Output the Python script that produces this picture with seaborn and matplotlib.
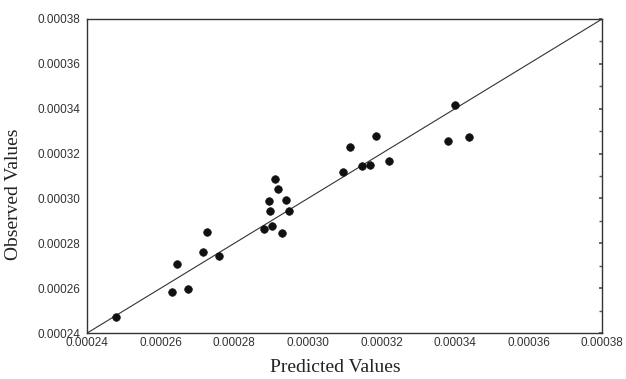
import matplotlib
matplotlib.use("Agg")
import matplotlib.pyplot as plt
import seaborn as sns
import numpy as np
import pandas as pd
from matplotlib.ticker import MultipleLocator, FormatStrFormatter

predicted = [0.000248, 0.0002631, 0.0002674, 0.0002645, 0.0002714, 0.0002727,
             0.0002758, 0.0002881, 0.0002902, 0.0002930, 0.0002897, 0.0002895,
             0.0002949, 0.0002942, 0.0002919, 0.0002910, 0.0003096, 0.0003114,
             0.0003148, 0.0003168, 0.0003185, 0.0003220, 0.0003382, 0.0003400,
             0.0003437]
observed = [0.000247, 0.0002584, 0.0002595, 0.0002707, 0.0002761, 0.0002849,
            0.0002744, 0.0002866, 0.0002877, 0.0002844, 0.0002945, 0.0002989,
            0.0002945, 0.0002995, 0.0003041, 0.0003089, 0.0003116, 0.0003230,
            0.0003144, 0.0003148, 0.0003277, 0.0003165, 0.0003254, 0.0003417,
            0.0003273]
axis_limits = [0.00024, 0.00038]
tick_values = [0.00024, 0.00026, 0.00028, 0.00030, 0.00032, 0.00034, 0.00036, 0.00038]
x_label = "Predicted Values"
y_label = "Observed Values"

sns.set_theme(style="white")
plt.rcParams['font.family'] = ['Liberation Sans', 'DejaVu Sans']

df = pd.DataFrame({"Predicted": predicted, "Observed": observed})
line_df = pd.DataFrame({"x": axis_limits, "y": axis_limits})

fig = plt.figure(figsize=(6.26, 3.79), dpi=100)
ax = fig.add_axes([0.139, 0.121, 0.823, 0.829])

sns.lineplot(data=line_df, x="x", y="y", ax=ax, color="#333333", linewidth=0.8)
sns.scatterplot(data=df, x="Predicted", y="Observed", ax=ax, color="#111111",
                s=30, edgecolor="#111111", linewidth=0.5, zorder=3)

ax.set_xlim(axis_limits)
ax.set_ylim(axis_limits)
ax.set_xticks(tick_values)
ax.set_yticks(tick_values)
ax.xaxis.set_major_formatter(FormatStrFormatter('%.5f'))
ax.yaxis.set_major_formatter(FormatStrFormatter('%.5f'))
ax.tick_params(axis='both', labelsize=8.5, colors="#333333", length=0)
ax.tick_params(axis='x', pad=3)
ax.tick_params(axis='y', pad=5)
ax.yaxis.set_minor_locator(MultipleLocator(0.00001))
ax.tick_params(axis='y', which='minor', left=False, right=True, direction='in', length=2.5, color="#555555")
ax.tick_params(axis='y', which='major', left=False, right=True, direction='in', length=2.5, color="#555555")

for sp in ax.spines.values():
    sp.set_color("#333333")
    sp.set_linewidth(1.0)

ax.set_xlabel(x_label, family=['Liberation Serif'], fontsize=14, color="#222222")
ax.set_ylabel(y_label, family=['Liberation Serif'], fontsize=14, color="#222222")
ax.xaxis.label.set_va('center')
ax.yaxis.label.set_va('center')
ax.xaxis.set_label_coords((335 - 87) / 515, (333 - 367) / 314)
ax.yaxis.set_label_coords((14 - 87) / 515, (333 - 194) / 314)

fig.savefig("out.png", dpi=100)
